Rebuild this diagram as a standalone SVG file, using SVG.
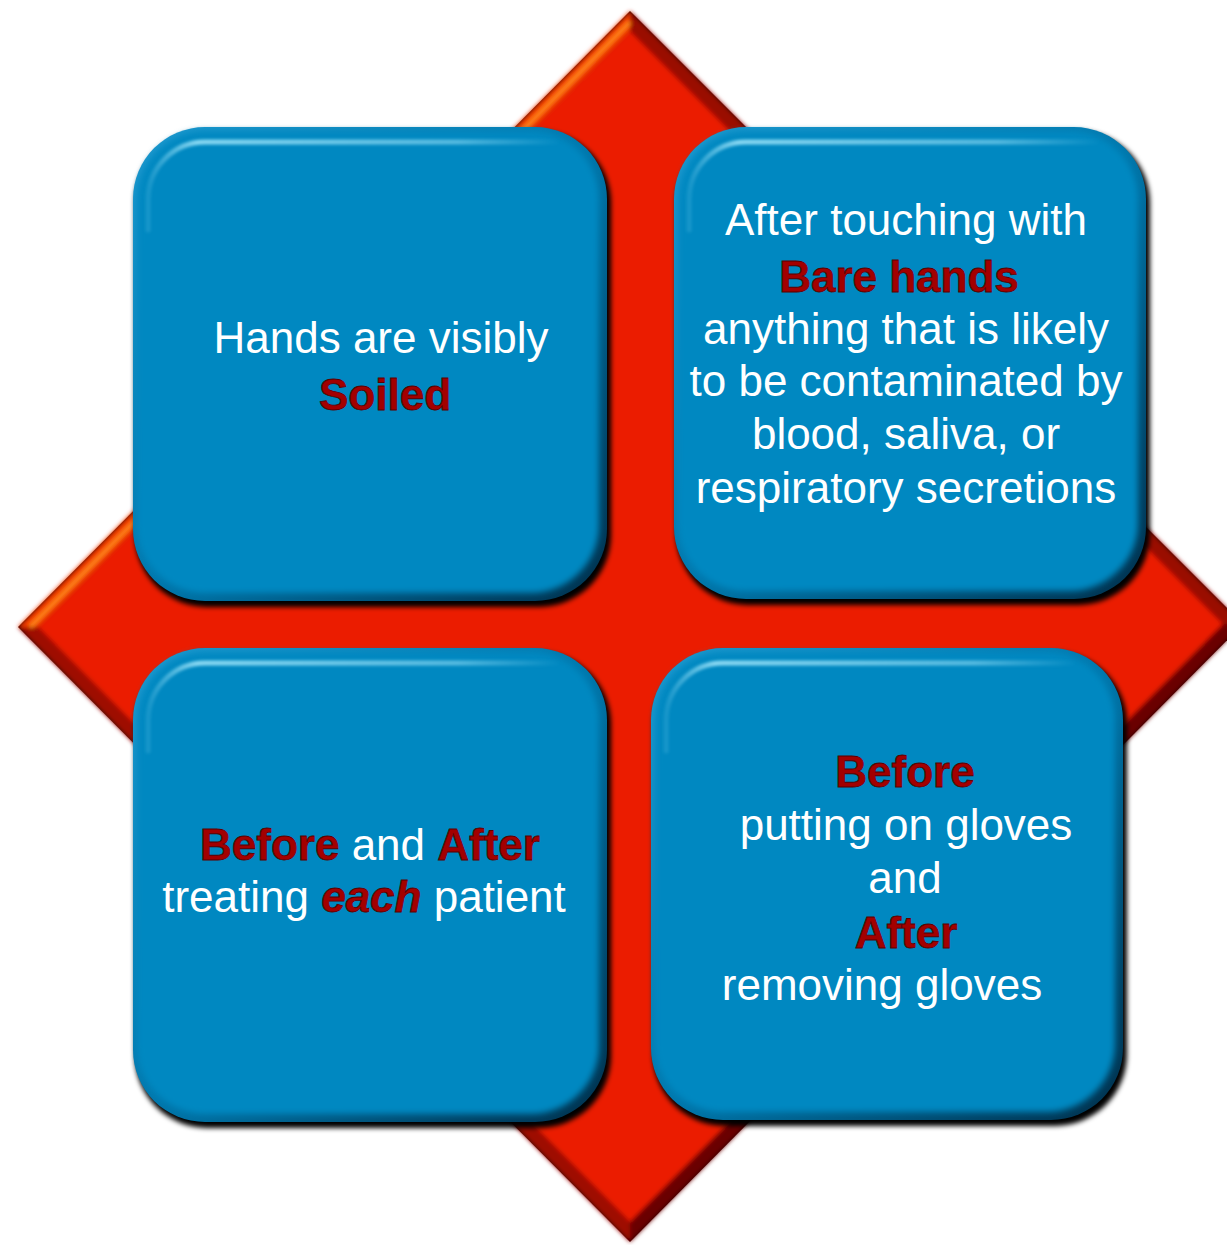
<svg xmlns="http://www.w3.org/2000/svg" width="1227" height="1245" viewBox="0 0 1227 1245">
  <defs>
    <filter id="soft" x="-5%" y="-5%" width="110%" height="110%">
      <feGaussianBlur stdDeviation="2"/>
    </filter>
    <filter id="shadow" x="-10%" y="-10%" width="120%" height="120%">
      <feGaussianBlur stdDeviation="2.5"/>
    </filter>
    <filter id="faceBlur" x="-5%" y="-5%" width="110%" height="110%">
      <feGaussianBlur stdDeviation="3"/>
    </filter>
    <filter id="hlBlur" x="-10%" y="-10%" width="120%" height="120%">
      <feGaussianBlur stdDeviation="1.6"/>
    </filter>
    <linearGradient id="hl" x1="0" y1="0" x2="1" y2="0">
      <stop offset="0" stop-color="#8fdcf5" stop-opacity="0.15"/>
      <stop offset="0.12" stop-color="#8fdcf5" stop-opacity="0.95"/>
      <stop offset="0.75" stop-color="#8fdcf5" stop-opacity="0.6"/>
      <stop offset="1" stop-color="#8fdcf5" stop-opacity="0"/>
    </linearGradient>
    <linearGradient id="rim" x1="0" y1="0" x2="1" y2="1">
      <stop offset="0" stop-color="#1e9ad0"/>
      <stop offset="0.5" stop-color="#0078ad"/>
      <stop offset="1" stop-color="#00304c"/>
    </linearGradient>
  </defs>
  <style>
    .shadow { fill: #000000; opacity: 1; filter: url(#shadow); }
    .rim { fill: url(#rim); }
    .face { fill: #0088c1; filter: url(#faceBlur); }
    .hl { fill: none; stroke: url(#hl); stroke-width: 5; stroke-linecap: round; filter: url(#hlBlur); }
    .t { font-family: "Liberation Sans", Arial, sans-serif; font-size: 44px; fill: #ffffff; text-anchor: middle; }
    .r { font-weight: bold; fill: #a30000; stroke: #5a0000; stroke-width: 0.8px; }
    .i { font-style: italic; }
  </style>

  <rect x="0" y="0" width="1227" height="1245" fill="#ffffff"/>

  <g id="diamond">
    <polygon points="630,11 1243,624 630,1242 18,627" fill="#2a0000"/>
    <g filter="url(#soft)">
      <polygon points="18,627 630,11 630,31 38,627" fill="#f23a00"/>
      <polygon points="630,11 1243,624 1223,624 630,31" fill="#9a0a00"/>
      <polygon points="1243,624 630,1242 630,1222 1223,624" fill="#6a0500"/>
      <polygon points="630,1242 18,627 38,627 630,1222" fill="#9e0c00"/>
      <line x1="30" y1="627" x2="630" y2="22" stroke="#ff8a1a" stroke-width="4"/>
      <polygon points="630,31 1223,624 630,1222 38,627" fill="#eb1a00"/>
    </g>
  </g>

  <g id="connectors"></g>

  <g id="box-tl">
    <rect class="shadow" x="135" y="131" width="476" height="476" rx="72"/>
    <rect class="rim" x="133" y="127" width="474" height="474" rx="72"/>
    <rect class="face" x="137" y="131" width="462" height="462" rx="68"/>
    <path class="hl" d="M148,230 L148,199 A57,57 0 0 1 205,142 L560,142"/>
    <text class="t" x="381" y="353">Hands are visibly</text>
    <text class="t r" x="385" y="410">Soiled</text>
  </g>

  <g id="box-tr">
    <rect class="shadow" x="676" y="131" width="474" height="474" rx="72"/>
    <rect class="rim" x="674" y="127" width="472" height="472" rx="72"/>
    <rect class="face" x="678" y="131" width="460" height="460" rx="68"/>
    <path class="hl" d="M689,230 L689,199 A57,57 0 0 1 746,142 L1100,142"/>
    <text class="t" x="906" y="235">After touching with</text>
    <text class="t r" x="899" y="292">Bare hands</text>
    <text class="t" x="906" y="344">anything that is likely</text>
    <text class="t" x="906" y="396">to be contaminated by</text>
    <text class="t" x="906" y="449">blood, saliva, or</text>
    <text class="t" x="906" y="503">respiratory secretions</text>
  </g>

  <g id="box-bl">
    <rect class="shadow" x="135" y="652" width="476" height="476" rx="72"/>
    <rect class="rim" x="133" y="648" width="474" height="474" rx="72"/>
    <rect class="face" x="137" y="652" width="462" height="462" rx="68"/>
    <path class="hl" d="M148,751 L148,720 A57,57 0 0 1 205,663 L560,663"/>
    <text class="t" x="370" y="860"><tspan class="r">Before</tspan> and <tspan class="r">After</tspan></text>
    <text class="t" x="364" y="912">treating <tspan class="r i">each</tspan> patient</text>
  </g>

  <g id="box-br">
    <rect class="shadow" x="653" y="652" width="474" height="474" rx="72"/>
    <rect class="rim" x="651" y="648" width="472" height="472" rx="72"/>
    <rect class="face" x="655" y="652" width="460" height="460" rx="68"/>
    <path class="hl" d="M666,751 L666,720 A57,57 0 0 1 723,663 L1076,663"/>
    <text class="t r" x="905" y="787">Before</text>
    <text class="t" x="906" y="840">putting on gloves</text>
    <text class="t" x="905" y="893">and</text>
    <text class="t r" x="906" y="948">After</text>
    <text class="t" x="882" y="1000">removing gloves</text>
  </g>
</svg>
